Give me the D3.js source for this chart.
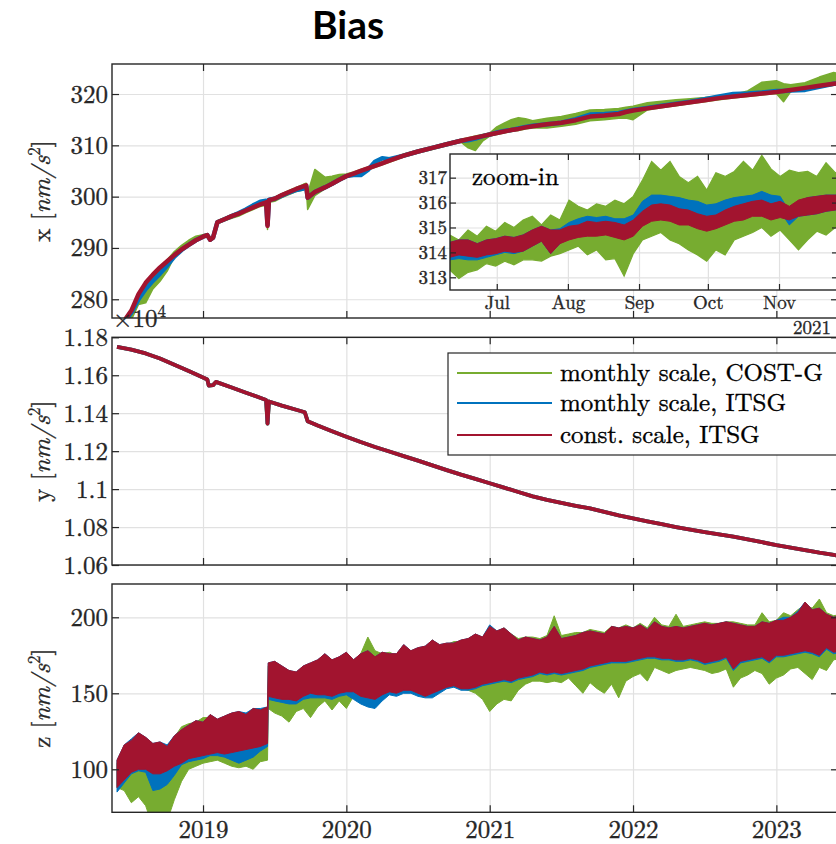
<!DOCTYPE html>
<html><head><meta charset="utf-8">
<script src="https://cdn.jsdelivr.net/npm/d3@7"></script>
<style>
body{margin:0;background:#fff;}
.cm{stroke:currentColor;stroke-width:0.35px;}
</style></head><body><svg id="c" width="836" height="844"></svg>
<script>
// ---------------- DATA ----------------
const seriesNames = ["monthly scale, COST-G", "monthly scale, ITSG", "const. scale, ITSG"];
const seriesColors = ["#77AC30", "#0072BD", "#A2142F"];
const yearTicks = [2019, 2020, 2021, 2022, 2023];
const xPanelTicks = [280, 290, 300, 310, 320];
const yPanelTicks = [1.06, 1.08, 1.1, 1.12, 1.14, 1.16, 1.18];
const zPanelTicks = [100, 150, 200];
const insetTicksY = [313, 314, 315, 316, 317];

// x component (decimal years)
const xT = [2018.40,2018.45,2018.50,2018.55,2018.60,2018.65,2018.70,2018.75,2018.80,2018.85,2018.90,2018.95,
 2019.00,2019.03,2019.05,2019.07,2019.10,2019.15,2019.20,2019.25,2019.30,2019.35,2019.40,2019.44,2019.45,2019.46,2019.50,2019.55,2019.60,2019.65,2019.70,2019.72,2019.73,2019.78,2019.85,2019.90,2019.95,
 2020.00,2020.05,2020.10,2020.15,2020.20,2020.25,2020.30,2020.40,2020.50,2020.60,2020.70,2020.80,2020.85,2020.90,2020.95,
 2021.00,2021.05,2021.10,2021.15,2021.20,2021.25,2021.30,2021.40,2021.50,2021.60,2021.70,2021.80,2021.90,2021.95,
 2022.00,2022.10,2022.20,2022.30,2022.40,2022.50,2022.60,2022.70,2022.80,2022.90,
 2023.00,2023.05,2023.10,2023.20,2023.30,2023.40,2023.45];
const xConstITSG = [272.5,275.8,277.8,281.0,283.2,284.8,286.2,287.4,288.6,289.7,290.6,291.5,
 292.2,292.5,291.6,292.0,295.0,295.6,296.2,296.7,297.3,297.9,298.5,298.9,294.3,299.3,299.6,300.3,300.9,301.5,302.0,302.2,299.8,300.9,301.8,302.5,303.3,
 304.0,304.5,305.0,305.5,306.0,306.5,307.0,308.0,308.8,309.5,310.2,310.9,311.2,311.5,311.8,
 312.1,312.4,312.7,313.0,313.2,313.5,313.7,314.1,314.4,314.9,315.6,315.8,316.1,316.5,
 316.8,317.2,317.6,318.0,318.4,318.8,319.2,319.5,319.8,320.1,
 320.4,320.6,320.8,321.2,321.6,322.0,322.2];
const xMonthlyITSG = [272.3,275.5,277.4,280.0,282.0,283.6,285.0,286.6,288.3,289.6,290.6,291.5,
 292.2,292.5,291.6,292.0,295.0,295.6,296.2,296.8,297.5,298.3,299.0,299.2,294.5,299.4,299.6,300.2,300.8,301.3,301.6,302.0,299.8,300.9,301.8,302.5,303.3,
 304.0,304.2,304.2,305.2,306.8,307.5,307.3,308.0,308.8,309.5,310.2,310.9,311.0,311.3,311.8,
 312.1,312.5,312.8,313.0,313.3,313.6,313.8,314.1,314.4,315.1,316.0,316.1,316.3,316.6,
 316.9,317.3,317.7,318.1,318.5,319.0,319.5,320.0,320.1,320.3,
 320.6,320.6,320.7,320.8,321.4,322.0,322.2];
const xCostGLo = [272.2,275.0,276.0,279.0,279.3,282.0,283.5,285.5,288.3,289.5,290.4,291.3,
 292.0,292.3,291.3,291.7,294.7,295.3,295.8,296.2,296.9,297.5,298.1,298.3,293.6,298.9,299.1,299.8,300.4,301.0,301.3,301.8,297.5,300.2,301.5,302.2,303.0,
 303.7,304.2,304.7,305.2,305.7,306.2,306.7,307.7,308.5,309.2,309.9,310.6,309.5,309.0,310.8,
 311.8,312.1,312.4,312.7,312.9,313.2,313.4,313.4,313.7,314.1,314.8,315.0,315.3,315.3,
 315.0,316.9,317.3,317.7,318.1,318.5,318.9,319.2,319.5,319.8,
 320.1,318.5,320.5,320.9,321.3,321.7,321.9];
const xCostGHi = [272.8,276.0,278.0,281.2,283.4,285.0,286.4,287.7,289.3,290.5,291.5,292.3,
 292.6,292.7,291.9,292.3,295.3,295.9,296.5,297.0,297.6,298.2,298.8,299.2,299.0,299.6,299.9,300.6,301.2,301.8,302.4,302.6,300.6,305.3,303.8,304.0,304.3,
 304.4,304.8,305.3,305.8,306.3,306.8,307.3,308.3,309.1,309.8,310.5,311.2,311.5,311.8,312.1,
 312.4,313.6,314.3,315.0,315.4,315.2,314.8,315.3,315.6,316.2,316.9,317.0,317.2,317.4,
 317.6,318.3,318.6,318.9,319.1,319.3,319.6,319.9,320.6,322.3,
 322.6,322.0,321.8,322.2,323.3,324.2,323.8];

// y component (x 10^4 nm/s^2), the three solutions coincide at this scale
const yT = [2018.40,2018.50,2018.60,2018.70,2018.80,2018.90,
 2019.00,2019.03,2019.04,2019.07,2019.09,2019.20,2019.30,2019.44,2019.45,2019.46,2019.55,2019.65,2019.71,2019.73,2019.80,2019.90,
 2020.00,2020.10,2020.20,2020.30,2020.40,2020.50,2020.60,2020.70,2020.80,2020.90,
 2021.00,2021.10,2021.20,2021.30,2021.40,2021.50,2021.60,2021.70,2021.80,2021.90,
 2022.00,2022.10,2022.20,2022.30,2022.40,2022.50,2022.60,2022.70,2022.80,2022.90,
 2023.00,2023.10,2023.20,2023.30,2023.40,2023.45];
const yBias = [1.1750,1.1735,1.1715,1.1688,1.1655,1.1622,
 1.1588,1.1578,1.1545,1.1548,1.1565,1.1535,1.1508,1.1470,1.1345,1.1462,1.1440,1.1418,1.1405,1.1358,1.1335,1.1305,
 1.1276,1.1248,1.1222,1.1198,1.1174,1.1150,1.1125,1.1100,1.1076,1.1054,
 1.1031,1.1008,1.0985,1.0962,1.0943,1.0927,1.0912,1.0898,1.0880,1.0862,
 1.0846,1.0830,1.0815,1.0800,1.0786,1.0773,1.0761,1.0749,1.0735,1.0720,
 1.0705,1.0692,1.0679,1.0665,1.0653,1.0647];

// z component: envelopes of the noisy daily series
const zT = [2018.40,2018.45,2018.50,2018.55,2018.60,2018.65,2018.70,2018.75,2018.80,2018.85,2018.90,2018.95,
 2019.00,2019.05,2019.10,2019.15,2019.20,2019.25,2019.30,2019.35,2019.40,2019.45,2019.455,
 2019.50,2019.55,2019.60,2019.65,2019.70,2019.75,2019.80,2019.85,2019.90,2019.95,
 2020.00,2020.05,2020.10,2020.15,2020.20,2020.25,2020.30,2020.35,2020.40,2020.45,2020.50,2020.55,2020.60,2020.65,2020.70,2020.75,2020.80,2020.85,2020.90,2020.95,
 2021.00,2021.05,2021.10,2021.15,2021.20,2021.25,2021.30,2021.35,2021.40,2021.45,2021.50,2021.55,2021.60,2021.65,2021.70,2021.75,2021.80,2021.85,2021.90,2021.95,
 2022.00,2022.05,2022.10,2022.15,2022.20,2022.25,2022.30,2022.35,2022.40,2022.45,2022.50,2022.55,2022.60,2022.65,2022.70,2022.75,2022.80,2022.85,2022.90,2022.95,
 2023.00,2023.05,2023.10,2023.15,2023.20,2023.25,2023.30,2023.35,2023.40,2023.45];
const zConstHi = [106,116,119,124,121,117,118,115,122,126,129,132,
 131,136,133,135,137,138,136,140,139,141,170,
 171,168,165,164,168,170,172,176,172,174,
 177,172,176,178,174,177,176,176,182,178,180,181,185,182,183,183,185,186,189,187,
 194,191,193,189,185,187,186,185,187,194,186,187,188,190,191,190,189,194,193,194,
 193,195,192,197,194,193,194,193,194,195,196,195,196,197,196,195,194,194,197,196,
 198,198,200,203,210,205,206,202,200,201];
const zConstLo = [88,93,98,100,100,97,97,99,102,104,107,108,
 109,110,111,110,111,112,113,114,115,117,148,
 147,146,146,145,148,150,149,149,148,150,
 151,151,148,147,146,149,151,150,152,152,150,148,150,152,154,155,153,153,154,156,
 157,158,159,158,160,161,162,164,163,164,163,164,165,166,168,169,170,171,171,171,
 172,173,174,174,173,173,172,172,173,172,170,171,172,174,166,171,172,173,174,171,
 175,175,176,177,178,177,175,180,177,178];
const zMonthlyHi = [106,116,120,124,121,117,118,116,122,126,129,132,
 131,136,133,135,137,138,137,140,140,141,170,
 171,168,165,164,168,170,172,176,172,174,
 177,172,176,178,174,177,176,176,182,178,180,181,185,182,183,183,185,186,189,187,
 195,191,193,189,185,187,186,185,187,194,186,187,188,190,191,190,189,194,193,194,
 193,195,192,197,194,193,194,193,194,195,196,195,196,197,196,195,194,194,197,196,
 198,200,200,204,210,205,206,202,200,201];
const zMonthlyLo = [85,91,97,99,98,86,87,90,96,103,105,106,
 107,109,109,108,106,104,106,108,112,115,146,
 145,144,143,143,146,147,147,147,146,148,
 149,146,143,141,140,145,149,148,150,150,148,147,147,150,153,154,152,152,153,155,
 156,157,158,157,159,160,161,163,162,163,162,163,164,165,167,168,169,170,170,170,
 171,172,173,173,172,172,171,171,172,171,169,170,171,173,165,170,171,172,173,170,
 174,174,175,176,177,176,174,179,176,177];
const zCostGLo = [88,86,78,82,76,62,60,66,80,92,100,102,
 104,105,106,104,102,101,102,100,105,106,140,
 137,135,131,138,140,134,141,145,139,145,
 140,148,146,147,146,149,151,150,152,152,150,149,150,152,154,155,153,152,150,146,
 138,143,146,145,152,156,158,158,157,158,157,160,155,150,157,153,150,156,147,158,
 161,163,158,167,165,163,165,166,167,166,165,163,164,166,154,160,162,165,163,156,
 160,162,166,167,163,159,167,165,172,173];
const zCostGHi = [104,112,117,122,120,115,116,114,121,128,130,131,
 134,134,131,132,135,136,134,138,137,140,168,
 169,166,165,163,166,168,171,174,171,173,
 175,171,176,187,178,176,177,175,180,177,179,180,185,181,182,184,184,186,188,186,
 193,190,193,189,186,187,187,186,188,201,188,189,190,190,192,191,190,194,193,195,
 193,196,193,200,195,194,202,194,195,196,197,196,196,197,197,196,195,195,203,197,
 198,203,201,205,208,206,212,203,201,202];

// zoom-in of x, days after 1 June 2021
const insetDays = [9,13,17,21,25,29,33,37,41,45,49,53,57,61,65,69,73,77,81,85,89,93,97,101,105,109,113,117,121,125,129,133,137,141,145,149,153,157,161,165,169,173,177,181];
const inConstHi = [314.4,314.5,314.5,314.35,314.5,314.55,314.65,314.6,314.7,314.9,315.05,314.9,314.9,315.05,315.1,315.25,315.2,315.25,315.2,315.1,315.3,315.65,315.9,315.95,315.9,315.75,315.7,315.55,315.45,315.5,315.7,315.85,315.95,316.05,316.1,315.95,316.05,315.85,316.1,316.2,316.25,316.3,316.3,316.35];
const inConstLo = [313.8,313.9,313.85,313.8,313.9,313.95,314.05,314.0,314.05,314.25,314.45,313.95,314.35,314.5,314.6,314.65,314.65,314.7,314.6,314.5,314.65,315.05,315.25,315.3,315.25,315.1,315.1,314.95,314.85,314.95,315.1,315.25,315.3,315.45,315.45,315.3,315.4,315.3,315.45,315.5,315.55,315.65,315.7,315.7];
const inMonthlyHi = [314.4,314.5,314.5,314.35,314.5,314.55,314.65,314.6,314.7,314.9,315.05,314.9,314.95,315.2,315.35,315.45,315.4,315.45,315.35,315.35,315.5,316.05,316.3,316.3,316.25,316.2,316.1,316.05,315.9,315.95,316.1,316.2,316.25,316.3,316.45,316.3,316.25,315.65,316.05,316.2,316.25,316.3,316.3,316.35];
const inMonthlyLo = [313.7,313.75,313.7,313.7,313.8,313.9,314.0,313.95,314.05,314.25,314.45,313.95,314.35,314.6,314.7,314.75,314.8,314.8,314.8,314.75,314.9,315.4,315.65,315.7,315.65,315.6,315.5,315.45,315.3,315.35,315.5,315.65,315.65,315.7,315.85,315.65,315.65,315.1,315.45,315.5,315.55,315.65,315.7,315.7];
const inCostGHi = [314.7,314.5,314.9,314.65,315.05,314.85,315.2,315.0,315.3,315.45,315.1,315.5,315.3,316.1,315.85,315.7,315.95,315.85,316.1,315.95,316.25,316.9,317.65,317.3,317.65,317.05,316.8,317.05,316.5,317.2,317.05,317.25,317.65,317.3,317.9,317.35,317.05,317.3,317.2,317.25,317.05,317.6,317.2,317.3];
const inCostGLo = [313.3,312.95,313.2,313.3,313.55,313.45,313.65,313.5,313.7,313.7,313.65,313.85,313.95,314.1,314.25,313.9,314.1,313.7,313.75,313.05,313.95,314.5,314.65,314.8,314.5,314.35,314.1,313.9,313.65,314.1,313.9,314.5,314.65,314.8,315.0,314.65,314.9,314.5,314.1,314.5,314.85,314.7,315.0,314.9];
const insetMonths = ["2021-07-01","2021-08-01","2021-09-01","2021-10-01","2021-11-01"];

// ---------------- DRAWING ----------------
const SERIF = "'Latin Modern Roman', cursive";
const svg = d3.select("#c");
const AX = "#262626", GRID = "#e1e1e1";
const X0 = 112, X1 = 838;
const x = d3.scaleLinear().domain([2018.365, 2023.43]).range([X0, X1]);
const [GREEN, BLUE, RED] = seriesColors;

svg.append("text").attr("x", 348).attr("y", 39).attr("text-anchor", "middle")
  .style("font-family", "Lato, 'Open Sans', sans-serif").style("font-weight", "bold").style("font-size", "39px")
  .attr("fill", "#000").text("Bias");

const panels = [
  {top: 64, bottom: 318, domain: [276.35, 325.85], ticks: xPanelTicks, label: "x"},
  {top: 337.3, bottom: 565, domain: [1.06, 1.18], ticks: yPanelTicks, label: "y"},
  {top: 584, bottom: 812.3, domain: [71.7, 221.9], ticks: zPanelTicks, label: "z"}
];

function gridAndClip(p, i) {
  const y = d3.scaleLinear().domain(p.domain).range([p.bottom, p.top]);
  svg.append("clipPath").attr("id", "clip" + i).append("rect")
    .attr("x", X0).attr("y", p.top).attr("width", X1 - X0).attr("height", p.bottom - p.top);
  const gg = svg.append("g").attr("color", GRID);
  gg.append("g").attr("transform", `translate(0,${p.bottom})`)
    .call(d3.axisBottom(x).tickValues(yearTicks).tickSize(-(p.bottom - p.top)).tickFormat(""))
    .call(s => { s.select(".domain").remove(); s.selectAll("line").attr("stroke-width", 1.2); });
  gg.append("g").attr("transform", `translate(${X0},0)`)
    .call(d3.axisLeft(y).tickValues(p.ticks).tickSize(-(X1 - X0)).tickFormat(""))
    .call(s => { s.select(".domain").remove(); s.selectAll("line").attr("stroke-width", 1.2); });
  const data = svg.append("g").attr("clip-path", `url(#clip${i})`);
  return {y, data};
}

function frame(p, y, showYears) {
  const g = svg.append("g").attr("color", AX);
  const style = s => {
    s.attr("font-family", null).attr("font-size", null);
    s.select(".domain").remove();
    s.selectAll("line").attr("stroke-width", 1.2);
    s.selectAll("text").attr("class", "cm").style("font-family", SERIF).style("font-size", "25px").attr("fill", AX);
  };
  g.append("g").attr("transform", `translate(${X0},0)`)
    .call(d3.axisLeft(y).tickValues(p.ticks).tickSize(-7).tickPadding(4).tickFormat(d => String(d))).call(style);
  g.append("g").attr("transform", `translate(${X1},0)`)
    .call(d3.axisRight(y).tickValues(p.ticks).tickSize(-7).tickFormat("")).call(style);
  g.append("g").attr("transform", `translate(0,${p.top})`)
    .call(d3.axisTop(x).tickValues(yearTicks).tickSize(-7).tickFormat("")).call(style);
  g.append("g").attr("transform", `translate(0,${p.bottom})`)
    .call(d3.axisBottom(x).tickValues(yearTicks).tickSize(-7).tickPadding(8)
      .tickFormat(showYears ? (d => String(d)) : "")).call(style);
  g.append("rect").attr("x", X0).attr("y", p.top).attr("width", X1 - X0).attr("height", p.bottom - p.top)
    .attr("fill", "none").attr("stroke", AX).attr("stroke-width", 1.4);
  const t = svg.append("text").attr("class", "cm").attr("color", AX)
    .attr("transform", `translate(50,${(p.top + p.bottom) / 2}) rotate(-90)`)
    .attr("text-anchor", "middle").style("font-family", SERIF).style("font-size", "25px").attr("fill", AX);
  t.append("tspan").text(p.label + " [");
  t.append("tspan").style("font-style", "italic").text("nm/s");
  t.append("tspan").attr("dy", -10).style("font-size", "17px").text("2");
  t.append("tspan").attr("dy", 10).text("]");
}

function bandPath(tArr, lo, hi, xs, ys) {
  return d3.area().x((d, i) => xs(tArr[i])).y0((d, i) => ys(lo[i])).y1((d, i) => ys(hi[i]))(tArr);
}
function linePath(tArr, v, xs, ys) {
  return d3.line().x((d, i) => xs(tArr[i])).y((d, i) => ys(v[i]))(tArr);
}

// ---- panel x ----
const P0 = gridAndClip(panels[0], 0);
P0.data.append("path").attr("d", bandPath(xT, xCostGLo, xCostGHi, x, P0.y))
  .attr("fill", GREEN).attr("stroke", GREEN).attr("stroke-width", 1.5).attr("stroke-linejoin", "round");
P0.data.append("path").attr("d", linePath(xT, xMonthlyITSG, x, P0.y))
  .attr("fill", "none").attr("stroke", BLUE).attr("stroke-width", 4.5).attr("stroke-linejoin", "round");
P0.data.append("path").attr("d", linePath(xT, xConstITSG, x, P0.y))
  .attr("fill", "none").attr("stroke", RED).attr("stroke-width", 4.5).attr("stroke-linejoin", "round");
frame(panels[0], P0.y, false);

// ---- panel y ----
const P1 = gridAndClip(panels[1], 1);
[GREEN, BLUE, RED].forEach(c => {
  P1.data.append("path").attr("d", linePath(yT, yBias, x, P1.y))
    .attr("fill", "none").attr("stroke", c).attr("stroke-width", 3.8).attr("stroke-linejoin", "round");
});
frame(panels[1], P1.y, false);

// ---- panel z ----
const P2 = gridAndClip(panels[2], 2);
[[zCostGLo, zCostGHi, GREEN], [zMonthlyLo, zMonthlyHi, BLUE], [zConstLo, zConstHi, RED]].forEach(([lo, hi, c]) => {
  P2.data.append("path").attr("d", bandPath(zT, lo, hi, x, P2.y))
    .attr("fill", c).attr("stroke", c).attr("stroke-width", 1).attr("stroke-linejoin", "miter");
});
frame(panels[2], P2.y, true);

// ×10^4 exponent label
const ex = svg.append("text").attr("class", "cm").attr("color", AX).attr("x", 113).attr("y", 327)
  .style("font-family", SERIF).style("font-size", "25px").attr("fill", AX);
ex.append("tspan").text("×10");
ex.append("tspan").attr("dy", -10).style("font-size", "17px").text("4");

// ---- inset ----
const IL = 450, IR = 838, IT = 154, IB = 290;
const ix = d3.scaleUtc().domain([new Date(Date.UTC(2021, 5, 10, 15)), new Date(Date.UTC(2021, 10, 26, 17))]).range([IL, IR]);
const iy = d3.scaleLinear().domain([312.49, 317.95]).range([IB, IT]);
const iDates = insetDays.map(d => new Date(Date.UTC(2021, 5, 1 + d, 12)));
const mTicks = insetMonths.map(s => new Date(s + "T00:00:00Z"));
svg.append("rect").attr("x", IL).attr("y", IT).attr("width", IR - IL).attr("height", IB - IT).attr("fill", "#fff");
svg.append("clipPath").attr("id", "clipI").append("rect").attr("x", IL).attr("y", IT).attr("width", IR - IL).attr("height", IB - IT);
const ig = svg.append("g").attr("color", GRID);
ig.append("g").attr("transform", `translate(0,${IB})`)
  .call(d3.axisBottom(ix).tickValues(mTicks).tickSize(-(IB - IT)).tickFormat(""))
  .call(s => { s.select(".domain").remove(); s.selectAll("line").attr("stroke-width", 1.2); });
ig.append("g").attr("transform", `translate(${IL},0)`)
  .call(d3.axisLeft(iy).tickValues(insetTicksY).tickSize(-(IR - IL)).tickFormat(""))
  .call(s => { s.select(".domain").remove(); s.selectAll("line").attr("stroke-width", 1.2); });
const idata = svg.append("g").attr("clip-path", "url(#clipI)");
[[inCostGLo, inCostGHi, GREEN, 1.2], [inMonthlyLo, inMonthlyHi, BLUE, 1], [inConstLo, inConstHi, RED, 1]].forEach(([lo, hi, c, w]) => {
  idata.append("path").attr("d", bandPath(iDates, lo, hi, ix, iy))
    .attr("fill", c).attr("stroke", c).attr("stroke-width", w).attr("stroke-linejoin", "miter");
});
const ia = svg.append("g").attr("color", AX);
const istyle = s => {
  s.attr("font-family", null).attr("font-size", null);
  s.select(".domain").remove();
  s.selectAll("line").attr("stroke-width", 1.2);
  s.selectAll("text").attr("class", "cm").style("font-family", SERIF).style("font-size", "19px").attr("fill", AX);
};
ia.append("g").attr("transform", `translate(${IL},0)`)
  .call(d3.axisLeft(iy).tickValues(insetTicksY).tickSize(-6).tickPadding(3).tickFormat(d => String(d))).call(istyle);
ia.append("g").attr("transform", `translate(${IR},0)`)
  .call(d3.axisRight(iy).tickValues(insetTicksY).tickSize(-6).tickFormat("")).call(istyle);
ia.append("g").attr("transform", `translate(0,${IB})`)
  .call(d3.axisBottom(ix).tickValues(mTicks).tickSize(-6).tickPadding(5).tickFormat(d3.utcFormat("%b"))).call(istyle);
ia.append("g").attr("transform", `translate(0,${IT})`)
  .call(d3.axisTop(ix).tickValues(mTicks).tickSize(-6).tickFormat("")).call(istyle);
svg.append("rect").attr("x", IL).attr("y", IT).attr("width", IR - IL).attr("height", IB - IT)
  .attr("fill", "none").attr("stroke", AX).attr("stroke-width", 1.4);
svg.append("text").attr("class", "cm").attr("color", "#000").attr("x", 472).attr("y", 185)
  .style("font-family", SERIF).style("font-size", "25px").attr("fill", "#000").text("zoom-in");
svg.append("text").attr("class", "cm").attr("color", AX).attr("x", 831).attr("y", 334).attr("text-anchor", "end")
  .style("font-family", SERIF).style("font-size", "19px").attr("fill", AX).text("2021");

// ---- legend ----
const lg = svg.append("g");
lg.append("rect").attr("x", 448).attr("y", 353).attr("width", 400).attr("height", 102)
  .attr("fill", "#fff").attr("stroke", AX).attr("stroke-width", 1.2);
const rowsY = [373, 403, 435];
seriesNames.forEach((n, i) => {
  lg.append("line").attr("x1", 457).attr("x2", 552).attr("y1", rowsY[i]).attr("y2", rowsY[i])
    .attr("stroke", seriesColors[i]).attr("stroke-width", 2);
  lg.append("text").attr("class", "cm").attr("color", "#000").attr("x", 560).attr("y", rowsY[i] + 8)
    .style("font-family", SERIF).style("font-size", "25px").attr("fill", "#000").text(n);
});
</script></body></html>
